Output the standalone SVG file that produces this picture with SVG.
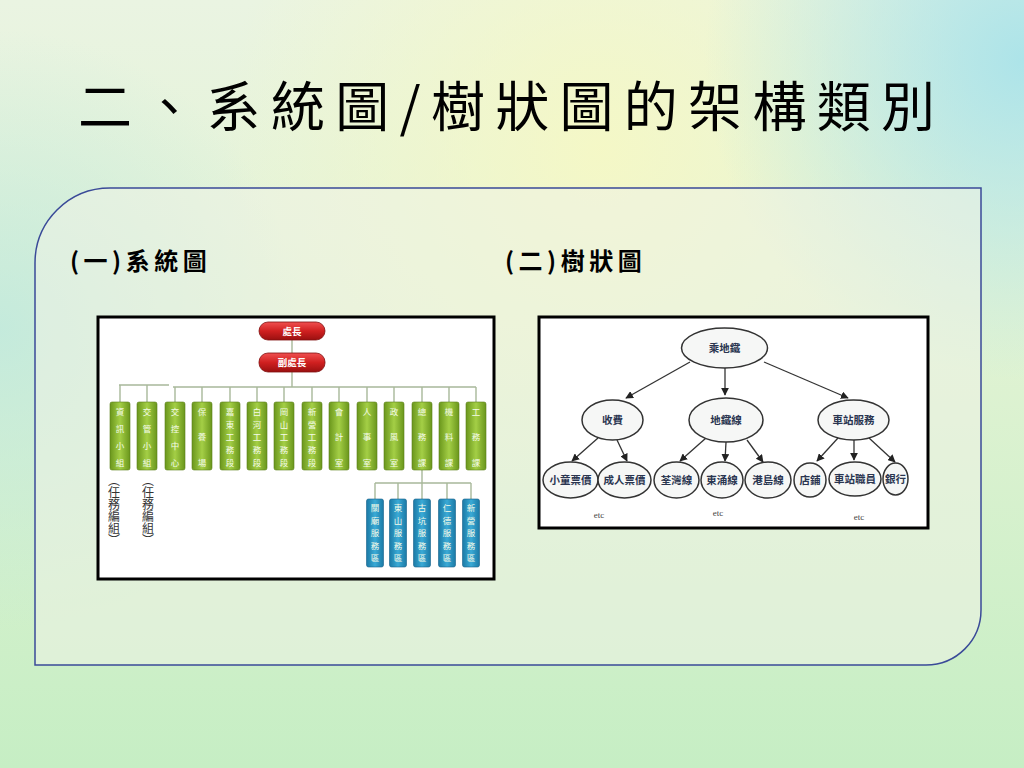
<svg xmlns="http://www.w3.org/2000/svg" width="1024" height="768" viewBox="0 0 1024 768">
<defs>
<linearGradient id="bg" x1="0" y1="0" x2="0" y2="1">
<stop offset="0" stop-color="#eaf4e2"/>
<stop offset="0.4" stop-color="#e2f3d4"/>
<stop offset="1" stop-color="#c6eec4"/>
</linearGradient>
<radialGradient id="gy" cx="600" cy="150" r="380" gradientUnits="userSpaceOnUse">
<stop offset="0" stop-color="#f6f8c4" stop-opacity="0.9"/>
<stop offset="1" stop-color="#f6f8c4" stop-opacity="0"/>
</radialGradient>
<radialGradient id="gc" cx="1024" cy="60" r="320" gradientUnits="userSpaceOnUse">
<stop offset="0" stop-color="#a6e2ea" stop-opacity="0.9"/>
<stop offset="1" stop-color="#a6e2ea" stop-opacity="0"/>
</radialGradient>
<radialGradient id="gl" cx="0" cy="330" r="300" gradientUnits="userSpaceOnUse">
<stop offset="0" stop-color="#bde8de" stop-opacity="0.8"/>
<stop offset="1" stop-color="#bde8de" stop-opacity="0"/>
</radialGradient>
<linearGradient id="green" x1="0" y1="0" x2="1" y2="0">
<stop offset="0" stop-color="#6a961c"/>
<stop offset="0.5" stop-color="#a4cf46"/>
<stop offset="1" stop-color="#6a961c"/>
</linearGradient>
<linearGradient id="blue" x1="0" y1="0" x2="1" y2="0">
<stop offset="0" stop-color="#1b7aa6"/>
<stop offset="0.5" stop-color="#3aaad6"/>
<stop offset="1" stop-color="#1b7aa6"/>
</linearGradient>
<linearGradient id="red" x1="0" y1="0" x2="0" y2="1">
<stop offset="0" stop-color="#f05050"/>
<stop offset="0.5" stop-color="#d02020"/>
<stop offset="1" stop-color="#9a1010"/>
</linearGradient>
<marker id="ah" viewBox="0 0 10 10" refX="9" refY="5" markerWidth="6" markerHeight="6" orient="auto">
<path d="M0,0 L10,5 L0,10 Z" fill="#222"/>
</marker>
<style>
.title{font-family:"Noto Sans CJK TC","Liberation Serif",serif;font-size:54px;fill:#000}
.sub{font-family:"Noto Sans CJK TC","Liberation Serif",serif;font-size:24px;font-weight:bold;fill:#000;letter-spacing:4.5px}
.frame{fill:#fff;stroke:#000;stroke-width:3}
.gbox{fill:url(#green);stroke:#5a8018;stroke-width:0.6}
.bbox{fill:url(#blue);stroke:#14608a;stroke-width:0.6}
.rbox{fill:url(#red);stroke:#801010;stroke-width:0.8}
.bt{font-family:"Noto Sans CJK TC",sans-serif;font-size:8.5px;fill:#f4fbe8;text-anchor:middle}
.rt{font-family:"Noto Sans CJK TC",sans-serif;font-size:9.5px;fill:#fff;font-weight:bold;text-anchor:middle}
.ol{stroke:#a8b89a;stroke-width:1.4;fill:none}
.task{font-family:"Noto Sans CJK TC",sans-serif;font-size:12px;fill:#333;writing-mode:vertical-rl}
.ell{fill:#f6f7f6;stroke:#333;stroke-width:1.5}
.et{font-family:"Noto Sans CJK TC",serif;font-size:10.5px;font-weight:bold;fill:#2a3550;text-anchor:middle}
.arr{stroke:#333;stroke-width:1.3;fill:none;marker-end:url(#ah)}
.etc{font-family:"Liberation Serif",serif;font-size:9px;fill:#444;text-anchor:middle}
</style>
</defs>
<rect width="1024" height="768" fill="url(#bg)"/>
<rect width="1024" height="768" fill="url(#gy)"/>
<rect width="1024" height="768" fill="url(#gc)"/>
<rect width="1024" height="768" fill="url(#gl)"/>

<text class="title" x="78" y="127" textLength="857" lengthAdjust="spacing">二、系統圖/樹狀圖的架構類別</text>

<path d="M35,263 A75,75 0 0 1 110,188 L981,188 L981,610 A55,55 0 0 1 926,665 L35,665 Z" fill="#eef3e6" fill-opacity="0.55" stroke="#3a4a98" stroke-width="1.5"/>

<text class="sub" x="70" y="270">(一)系統圖</text>
<text class="sub" x="505" y="270">(二)樹狀圖</text>

<!-- Left: org chart -->
<g id="orgchart">
<rect class="frame" x="98" y="317" width="396" height="262"/>
<g id="org-connectors">
<path class="ol" d="M292,340 V353 M292,372 V387 M119,385 H169 M173,387 H476 M120,385 V402 M147,385 V402 M175,387 V402 M202,387 V402 M230,387 V402 M257,387 V402 M284,387 V402 M312,387 V402 M339,387 V402 M367,387 V402 M394,387 V402 M422,387 V402 M449,387 V402 M476,387 V402"/>
<path class="ol" d="M422,470 V483 M375,483 H471 M375,483 V499 M398,483 V499 M447,483 V499 M471,483 V499 M422,483 V499" stroke="#8aa4b4"/>
</g>
<g id="n-chief"><rect class="rbox" x="259" y="322" width="66" height="18" rx="9"/><text class="rt" x="292" y="335">處長</text></g>
<g id="n-deputy"><rect class="rbox" x="259" y="353" width="66" height="19" rx="9"/><text class="rt" x="292" y="366">副處長</text></g>

<g id="n-g0"><rect class="gbox" x="110" y="402" width="20" height="68" rx="2"/><text class="bt"><tspan x="120" y="415">資</tspan><tspan x="120" y="432">訊</tspan><tspan x="120" y="449">小</tspan><tspan x="120" y="466">組</tspan></text></g>
<g id="n-g1"><rect class="gbox" x="137" y="402" width="20" height="68" rx="2"/><text class="bt"><tspan x="147" y="415">交</tspan><tspan x="147" y="432">管</tspan><tspan x="147" y="449">小</tspan><tspan x="147" y="466">組</tspan></text></g>
<g id="n-g2"><rect class="gbox" x="165" y="402" width="20" height="68" rx="2"/><text class="bt"><tspan x="175" y="415">交</tspan><tspan x="175" y="432">控</tspan><tspan x="175" y="449">中</tspan><tspan x="175" y="466">心</tspan></text></g>
<g id="n-g3"><rect class="gbox" x="192" y="402" width="20" height="68" rx="2"/><text class="bt"><tspan x="202" y="415">保</tspan><tspan x="202" y="440">養</tspan><tspan x="202" y="466">場</tspan></text></g>
<g id="n-g4"><rect class="gbox" x="220" y="402" width="20" height="68" rx="2"/><text class="bt"><tspan x="230" y="415">嘉</tspan><tspan x="230" y="428">東</tspan><tspan x="230" y="440">工</tspan><tspan x="230" y="453">務</tspan><tspan x="230" y="466">段</tspan></text></g>
<g id="n-g5"><rect class="gbox" x="247" y="402" width="20" height="68" rx="2"/><text class="bt"><tspan x="257" y="415">白</tspan><tspan x="257" y="428">河</tspan><tspan x="257" y="440">工</tspan><tspan x="257" y="453">務</tspan><tspan x="257" y="466">段</tspan></text></g>
<g id="n-g6"><rect class="gbox" x="274" y="402" width="20" height="68" rx="2"/><text class="bt"><tspan x="284" y="415">岡</tspan><tspan x="284" y="428">山</tspan><tspan x="284" y="440">工</tspan><tspan x="284" y="453">務</tspan><tspan x="284" y="466">段</tspan></text></g>
<g id="n-g7"><rect class="gbox" x="302" y="402" width="20" height="68" rx="2"/><text class="bt"><tspan x="312" y="415">新</tspan><tspan x="312" y="428">營</tspan><tspan x="312" y="440">工</tspan><tspan x="312" y="453">務</tspan><tspan x="312" y="466">段</tspan></text></g>
<g id="n-g8"><rect class="gbox" x="329" y="402" width="20" height="68" rx="2"/><text class="bt"><tspan x="339" y="415">會</tspan><tspan x="339" y="440">計</tspan><tspan x="339" y="466">室</tspan></text></g>
<g id="n-g9"><rect class="gbox" x="357" y="402" width="20" height="68" rx="2"/><text class="bt"><tspan x="367" y="415">人</tspan><tspan x="367" y="440">事</tspan><tspan x="367" y="466">室</tspan></text></g>
<g id="n-g10"><rect class="gbox" x="384" y="402" width="20" height="68" rx="2"/><text class="bt"><tspan x="394" y="415">政</tspan><tspan x="394" y="440">風</tspan><tspan x="394" y="466">室</tspan></text></g>
<g id="n-g11"><rect class="gbox" x="412" y="402" width="20" height="68" rx="2"/><text class="bt"><tspan x="422" y="415">總</tspan><tspan x="422" y="440">務</tspan><tspan x="422" y="466">課</tspan></text></g>
<g id="n-g12"><rect class="gbox" x="439" y="402" width="20" height="68" rx="2"/><text class="bt"><tspan x="449" y="415">機</tspan><tspan x="449" y="440">料</tspan><tspan x="449" y="466">課</tspan></text></g>
<g id="n-g13"><rect class="gbox" x="466" y="402" width="20" height="68" rx="2"/><text class="bt"><tspan x="476" y="415">工</tspan><tspan x="476" y="440">務</tspan><tspan x="476" y="466">課</tspan></text></g>

<text class="task" x="114" y="474">（任務編組）</text>
<text class="task" x="148" y="474">（任務編組）</text>

<g id="n-b0"><rect class="bbox" x="366.5" y="499" width="17" height="68" rx="2"/><text class="bt"><tspan x="375" y="511">關</tspan><tspan x="375" y="523.5">廟</tspan><tspan x="375" y="536">服</tspan><tspan x="375" y="548.5">務</tspan><tspan x="375" y="561">區</tspan></text></g>
<g id="n-b1"><rect class="bbox" x="389.5" y="499" width="17" height="68" rx="2"/><text class="bt"><tspan x="398" y="511">東</tspan><tspan x="398" y="523.5">山</tspan><tspan x="398" y="536">服</tspan><tspan x="398" y="548.5">務</tspan><tspan x="398" y="561">區</tspan></text></g>
<g id="n-b2"><rect class="bbox" x="413.5" y="499" width="17" height="68" rx="2"/><text class="bt"><tspan x="422" y="511">古</tspan><tspan x="422" y="523.5">坑</tspan><tspan x="422" y="536">服</tspan><tspan x="422" y="548.5">務</tspan><tspan x="422" y="561">區</tspan></text></g>
<g id="n-b3"><rect class="bbox" x="438.5" y="499" width="17" height="68" rx="2"/><text class="bt"><tspan x="447" y="511">仁</tspan><tspan x="447" y="523.5">德</tspan><tspan x="447" y="536">服</tspan><tspan x="447" y="548.5">務</tspan><tspan x="447" y="561">區</tspan></text></g>
<g id="n-b4"><rect class="bbox" x="462.5" y="499" width="17" height="68" rx="2"/><text class="bt"><tspan x="471" y="511">新</tspan><tspan x="471" y="523.5">營</tspan><tspan x="471" y="536">服</tspan><tspan x="471" y="548.5">務</tspan><tspan x="471" y="561">區</tspan></text></g>
</g>

<!-- Right: tree -->
<g id="tree">
<rect class="frame" x="539" y="317" width="389" height="211"/>
<g id="tree-connectors">
<line class="arr" x1="690" y1="362" x2="626" y2="398"/>
<line class="arr" x1="725" y1="368" x2="725" y2="395"/>
<line class="arr" x1="764" y1="362" x2="848" y2="398"/>
<line class="arr" x1="598" y1="438" x2="572" y2="461"/>
<line class="arr" x1="617" y1="440" x2="627" y2="461"/>
<line class="arr" x1="706" y1="438" x2="680" y2="461"/>
<line class="arr" x1="726" y1="442" x2="725" y2="461"/>
<line class="arr" x1="747" y1="440" x2="763" y2="462"/>
<line class="arr" x1="838" y1="438" x2="817" y2="461"/>
<line class="arr" x1="854" y1="440" x2="854" y2="460"/>
<line class="arr" x1="869" y1="438" x2="895" y2="462"/>
</g>
<g id="t-root"><ellipse class="ell" cx="724.5" cy="348" rx="43" ry="20"/><text class="et" x="724.5" y="352" font-size="12">乘地鐵</text></g>
<g id="t-fare"><ellipse class="ell" cx="612.5" cy="420" rx="30.5" ry="20"/><text class="et" x="612.5" y="424">收費</text></g>
<g id="t-lines"><ellipse class="ell" cx="726" cy="420" rx="37" ry="22"/><text class="et" x="726" y="424">地鐵線</text></g>
<g id="t-service"><ellipse class="ell" cx="853.5" cy="420" rx="35.5" ry="20"/><text class="et" x="853.5" y="424">車站服務</text></g>
<g id="t-child"><ellipse class="ell" cx="570.5" cy="480" rx="27.5" ry="18"/><text class="et" x="570.5" y="484" font-size="9.5">小童票價</text></g>
<g id="t-adult"><ellipse class="ell" cx="624.5" cy="480" rx="26.5" ry="18"/><text class="et" x="624.5" y="484" font-size="9.5">成人票價</text></g>
<g id="t-tw"><ellipse class="ell" cx="676.5" cy="480" rx="22.5" ry="18"/><text class="et" x="676.5" y="484" font-size="9.5">荃灣線</text></g>
<g id="t-tc"><ellipse class="ell" cx="722" cy="480" rx="21" ry="18"/><text class="et" x="722" y="484" font-size="9.5">東涌線</text></g>
<g id="t-is"><ellipse class="ell" cx="768" cy="480" rx="23" ry="18"/><text class="et" x="768" y="484" font-size="9.5">港島線</text></g>
<g id="t-shop"><ellipse class="ell" cx="810" cy="480" rx="16" ry="17"/><text class="et" x="810" y="484" font-size="9.5">店鋪</text></g>
<g id="t-staff"><ellipse class="ell" cx="855" cy="479" rx="26" ry="17"/><text class="et" x="855" y="483" font-size="9.5">車站職員</text></g>
<g id="t-bank"><ellipse class="ell" cx="895.5" cy="479" rx="12.5" ry="16"/><text class="et" x="895.5" y="483" font-size="9.5">銀行</text></g>
<text class="etc" x="599" y="518">etc</text>
<text class="etc" x="718" y="516">etc</text>
<text class="etc" x="859" y="520">etc</text>
</g>
</svg>
